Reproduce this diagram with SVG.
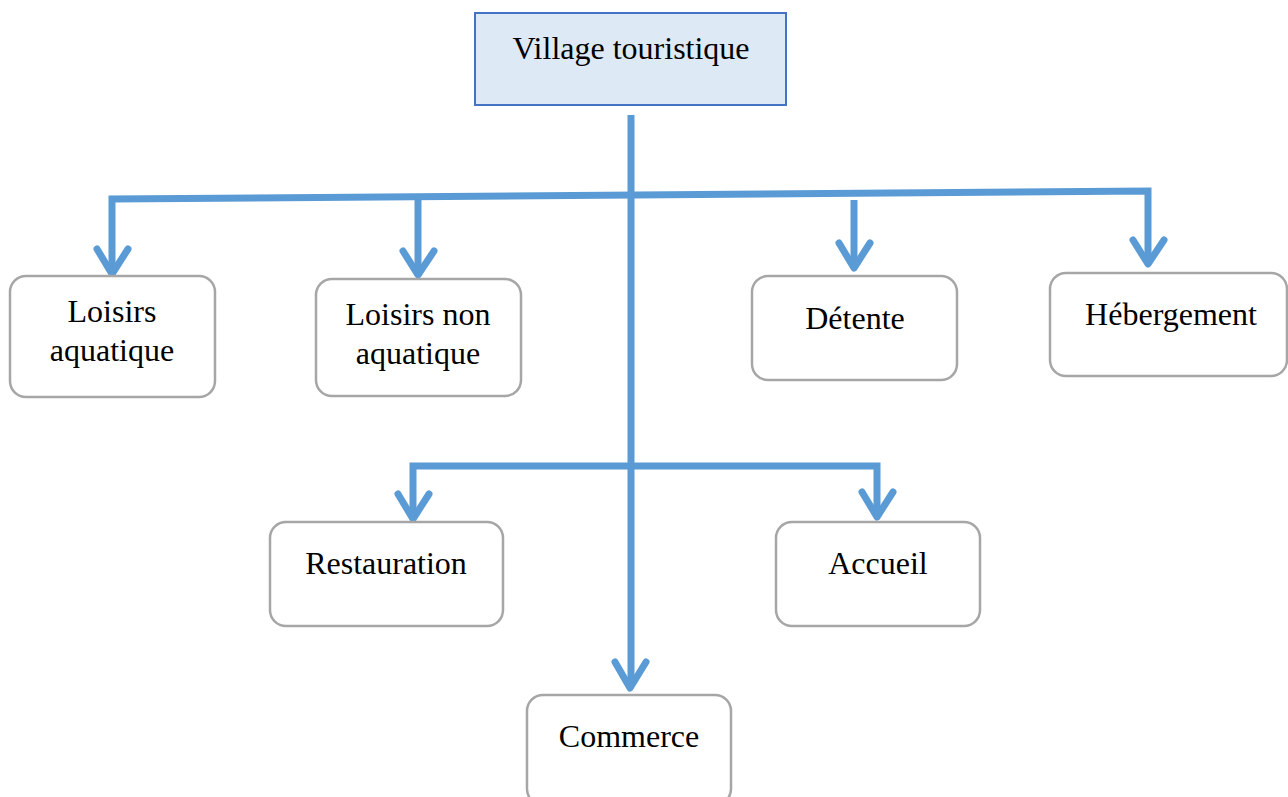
<svg xmlns="http://www.w3.org/2000/svg" width="1288" height="797" viewBox="0 0 1288 797">
<style>
.node{fill:#ffffff;stroke:#a6a6a6;stroke-width:2.5}
.root{fill:#dde9f5;stroke:#4472c4;stroke-width:2}
.lbl{font-family:"Liberation Serif","Times New Roman",serif;font-size:32px;fill:#000;text-anchor:middle}
.con{fill:none;stroke:#5b9bd5;stroke-width:7;stroke-linejoin:miter}
.head{fill:none;stroke:#5b9bd5;stroke-width:7;stroke-linecap:round;stroke-linejoin:round}
</style>
<rect width="1288" height="797" fill="#ffffff"/>
<g id="connectors">
<path class="con" d="M631,115 L631,684"/>
<path class="con" d="M112,272 L112,199 L1148,191 L1148,262"/>
<path class="con" d="M418,197 L418,273"/>
<path class="con" d="M854,200 L854,266"/>
<path class="con" d="M413,518 L413,466 L877,466 L877,516"/>
<path class="head" d="M97,249 L112,274 L128,249"/>
<path class="head" d="M403,251 L418,275 L434,251"/>
<path class="head" d="M839,243 L854,268 L870,243"/>
<path class="head" d="M1133,240 L1148,264 L1164,240"/>
<path class="head" d="M398,494 L413,519 L429,494"/>
<path class="head" d="M862,492 L877,517 L893,492"/>
<path class="head" d="M615,662 L630,688 L646,662"/>
</g>
<g id="root">
<rect class="root" x="475" y="13" width="311" height="92"/>
<text class="lbl" x="631" y="59">Village touristique</text>
</g>
<g id="loisirs-aquatique">
<rect class="node" x="10" y="276" width="205" height="121" rx="16"/>
<text class="lbl" x="112" y="322">Loisirs</text>
<text class="lbl" x="112" y="361">aquatique</text>
</g>
<g id="loisirs-non-aquatique">
<rect class="node" x="316" y="279" width="205" height="117" rx="16"/>
<text class="lbl" x="418" y="325">Loisirs non</text>
<text class="lbl" x="418" y="364">aquatique</text>
</g>
<g id="detente">
<rect class="node" x="752" y="276" width="205" height="104" rx="16"/>
<text class="lbl" x="855" y="329">Détente</text>
</g>
<g id="hebergement">
<rect class="node" x="1050" y="273" width="237" height="103" rx="16"/>
<text class="lbl" x="1171" y="325">Hébergement</text>
</g>
<g id="restauration">
<rect class="node" x="270" y="522" width="233" height="104" rx="16"/>
<text class="lbl" x="386" y="574">Restauration</text>
</g>
<g id="accueil">
<rect class="node" x="776" y="522" width="204" height="104" rx="16"/>
<text class="lbl" x="878" y="574">Accueil</text>
</g>
<g id="commerce">
<rect class="node" x="527" y="695" width="204" height="110" rx="16"/>
<text class="lbl" x="629" y="747">Commerce</text>
</g>
</svg>
